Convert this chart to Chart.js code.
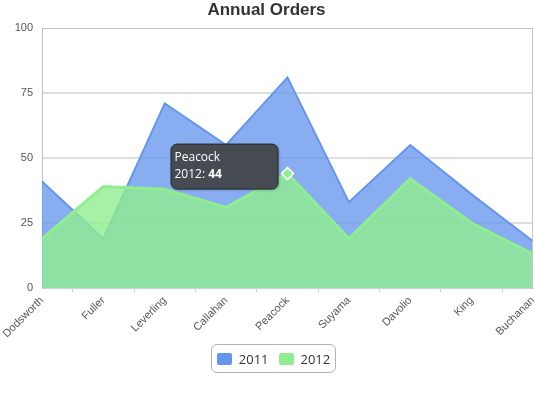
<!DOCTYPE html>
<html><head><meta charset="utf-8">
<script src="https://cdn.jsdelivr.net/npm/chart.js@4"></script>
<style>
html,body{margin:0;padding:0;background:#fff;}
#wrap{position:relative;width:534px;height:415px;}
canvas{display:block;}
#legend{position:absolute;left:211px;top:344px;width:123px;height:27px;border:1px solid #b4b4b4;border-radius:6px;
  display:flex;align-items:center;justify-content:center;font-family:'Open Sans',sans-serif;font-size:13px;color:#333;box-sizing:content-box;}
.item{display:flex;align-items:center;margin:0 5px;}
.sw{width:15px;height:12px;border-radius:2px;margin-right:7px;}
</style></head>
<body>
<div id="wrap"><canvas id="c" width="534" height="415"></canvas><div id="legend"></div></div>
<script>
const categories = ['Dodsworth','Fuller','Leverling','Callahan','Peacock','Suyama','Davolio','King','Buchanan'];
const seriesNames = ['2011','2012'];
const orders2011 = [41,19,71,55,81,33,55,36,18];
const orders2012 = [19,39,38,31,44,19,42,25,13];
const yTicks = [0,25,50,75,100];
const lineColors = ['#6495ED','#90EE90'];
const fillColors = ['rgba(100,149,237,0.77)','rgba(144,238,144,0.8)'];
const highlight = {series:1, index:4};

const legend = document.getElementById('legend');
seriesNames.forEach((n,i)=>{
  const it=document.createElement('div');it.className='item';
  const sw=document.createElement('div');sw.className='sw';sw.style.background=lineColors[i];
  const t=document.createElement('span');t.textContent=n;
  it.appendChild(sw);it.appendChild(t);legend.appendChild(it);
});

const borderPlugin = {
  id:'rightBorder',
  afterDatasetsDraw(chart){
    const a=chart.chartArea, ctx=chart.ctx;
    ctx.save();ctx.strokeStyle='#c4c4c4';ctx.lineWidth=1;
    ctx.beginPath();ctx.moveTo(Math.round(a.right)-0.5,a.top);ctx.lineTo(Math.round(a.right)-0.5,a.bottom);ctx.stroke();
    ctx.restore();
  }
};

const tipPlugin = {
  id:'staticTip',
  afterDraw(chart){
    const el = chart.getDatasetMeta(highlight.series).data[highlight.index];
    const ctx = chart.ctx;
    const w=107,h=45;
    const right = el.x-10, left = right-w, top = el.y-30;
    ctx.save();
    ctx.shadowColor='rgba(0,0,0,0.25)';ctx.shadowBlur=3;ctx.shadowOffsetX=1;ctx.shadowOffsetY=1;
    ctx.beginPath();ctx.roundRect(left+0.5,top+0.5,w,h,6);
    ctx.fillStyle='#464a51';ctx.fill();
    ctx.shadowColor='transparent';
    ctx.strokeStyle='#25272b';ctx.lineWidth=1;ctx.stroke();
    ctx.fillStyle='#fff';ctx.textBaseline='middle';ctx.textAlign='left';
    ctx.font='12px "Open Sans"';
    ctx.fillText(categories[highlight.index], left+4, top+13.5);
    const pre = seriesNames[highlight.series]+': ';
    ctx.fillText(pre, left+4, top+31);
    const pw = ctx.measureText(pre).width;
    ctx.font='bold 12px "Open Sans"';
    const ds = highlight.series===0?orders2011:orders2012;
    ctx.fillText(String(ds[highlight.index]), left+4+pw, top+31);
    ctx.restore();
  }
};

new Chart(document.getElementById('c'), {
  type:'line',
  data:{
    labels:categories,
    datasets:[
      {label:seriesNames[0],data:orders2011,borderColor:lineColors[0],backgroundColor:fillColors[0],borderWidth:2,fill:'origin',tension:0,pointRadius:0,order:1},
      {label:seriesNames[1],data:orders2012,borderColor:lineColors[1],backgroundColor:fillColors[1],borderWidth:3,fill:'origin',tension:0,order:0,
        pointStyle:'rectRot',pointRadius:c=>c.dataIndex===highlight.index?6:0,pointBackgroundColor:lineColors[1],pointBorderColor:'#fff',pointBorderWidth:1.5}
    ]
  },
  options:{
    responsive:false,animation:false,
    events:[],
    layout:{padding:{left:0,right:1,top:0,bottom:0}},
    plugins:{
      legend:{display:false},
      tooltip:{enabled:false},
      title:{display:true,text:'Annual Orders',color:'#333',font:{family:'Liberation Sans',size:17,weight:'bold',lineHeight:1.2},padding:{top:0,bottom:7.6}}
    },
    scales:{
      x:{
        type:'category',offset:false,
        grid:{offset:true,drawOnChartArea:false,tickLength:4,color:'#c8d0dc'},
        border:{color:'#c8d0dc'},
        ticks:{maxRotation:45,minRotation:45,autoSkip:false,color:'#555',font:{family:'Liberation Sans',size:11},padding:2},
        afterFit(s){s.height=127;s.paddingRight=0;s.paddingLeft=0;}
      },
      y:{
        min:0,max:100,
        afterBuildTicks(s){s.ticks=yTicks.map(v=>({value:v}));},
        grid:{drawTicks:false,color:c=>c.tick&&c.tick.value===100?'#c4c4c4':'#dedede',lineWidth:c=>c.tick&&c.tick.value===100?1:2},
        border:{color:'#c0c0c0'},
        ticks:{color:'#555',font:{family:'Liberation Sans',size:11},padding:9},
        afterFit(s){s.width=42;s.paddingTop=0;s.paddingBottom=0;}
      }
    }
  },
  plugins:[borderPlugin,tipPlugin]
});
</script>
</body></html>
